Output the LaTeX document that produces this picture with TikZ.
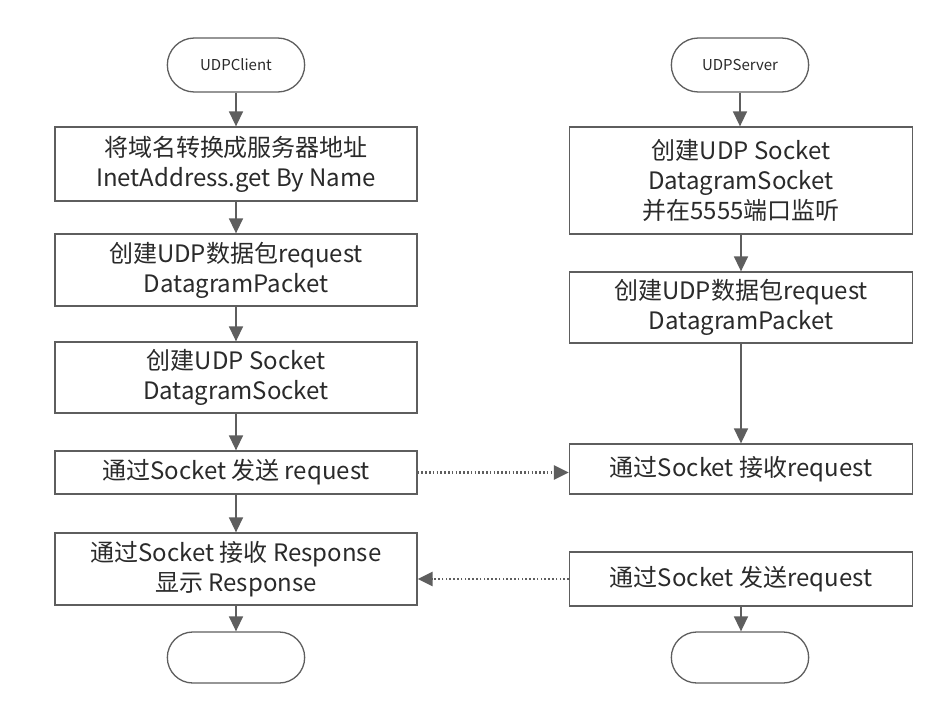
\documentclass[tikz,border=0pt]{standalone}
\usepackage{fontspec}
\setmainfont{Noto Sans CJK SC}
\usetikzlibrary{arrows.meta,shapes.misc}
\definecolor{linegray}{HTML}{5E5E5E}
\definecolor{textgray}{HTML}{2A2A2A}
\begin{document}
\begin{tikzpicture}[x=1pt,y=-1pt,
  stepbox/.style={draw=linegray, line width=1.3pt, rectangle, align=center,
    text=textgray, font=\fontsize{24}{30}\selectfont, inner sep=0pt},
  term/.style={draw=linegray, line width=1.3pt, rounded rectangle, minimum width=144pt,
    text=textgray, font=\fontsize{15}{18}\selectfont},
  flow/.style={draw=linegray, line width=1.5pt, -{Triangle[length=15pt,width=14pt]}},
  msg/.style={draw=linegray, line width=2.6pt, dash pattern=on 1.6pt off 2.2pt, -{Triangle[length=15pt,width=14pt]}}
]
\fill[white] (0,0) rectangle (940,716);
\useasboundingbox (0,0) rectangle (940,716);

% left column
\node[term, minimum height=54pt] (cs) at (236,65) {UDPClient};
\node[stepbox, minimum width=362pt, minimum height=74pt] (l1) at (236,164) {将域名转换成服务器地址\\InetAddress.get By Name};
\node[stepbox, minimum width=362pt, minimum height=72pt] (l2) at (236,270) {创建UDP数据包request\\DatagramPacket};
\node[stepbox, minimum width=362pt, minimum height=71pt] (l3) at (236,377.5) {创建UDP Socket\\DatagramSocket};
\node[stepbox, minimum width=362pt, minimum height=43pt] (l4) at (236,472.5) {通过Socket 发送 request};
\node[stepbox, minimum width=362pt, minimum height=72pt] (l5) at (236,569) {通过Socket 接收 Response\\显示 Response};
\node[term, minimum height=51pt] (ce) at (236,657.5) {};

% right column
\node[term, minimum height=54pt] (ss) at (740,65) {UDPServer};
\node[stepbox, minimum width=343pt, minimum height=107pt] (r1) at (741,180.5) {创建UDP Socket\\DatagramSocket\\并在5555端口监听};
\node[stepbox, minimum width=343pt, minimum height=71pt] (r2) at (741,307.5) {创建UDP数据包request\\DatagramPacket};
\node[stepbox, minimum width=343pt, minimum height=50pt] (r3) at (741,469) {通过Socket 接收request};
\node[stepbox, minimum width=343pt, minimum height=54pt] (r4) at (741,579) {通过Socket 发送request};
\node[term, minimum height=51pt] (se) at (740,657.5) {};

% left flow
\draw[flow] (cs.south) -- (cs.south |- l1.north);
\draw[flow] (l1.south) -- (l2.north);
\draw[flow] (l2.south) -- (l3.north);
\draw[flow] (l3.south) -- (l4.north);
\draw[flow] (l4.south) -- (l5.north);
\draw[flow] (l5.south) -- (l5.south |- ce.north);

% right flow
\draw[flow] (ss.south) -- (ss.south |- r1.north);
\draw[flow] (r1.south) -- (r2.north);
\draw[flow] (r2.south) -- (r3.north);
\draw[flow] (r4.south) -- (r4.south |- se.north);

% messages
\draw[msg] (l4.east) -- (l4.east -| r3.west);
\draw[msg] (r4.west) -- (r4.west -| l5.east);
\end{tikzpicture}
\end{document}
